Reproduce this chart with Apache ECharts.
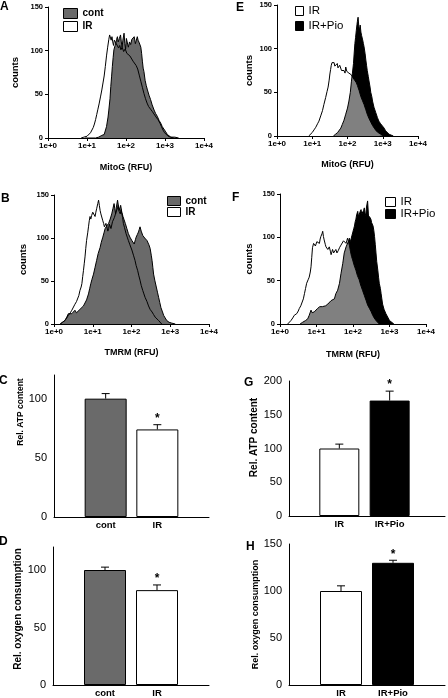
<!DOCTYPE html>
<html><head><meta charset="utf-8">
<script src="https://cdn.jsdelivr.net/npm/echarts@6/dist/echarts.min.js"></script>
<style>html,body{margin:0;padding:0;background:#fff}#c{width:448px;height:698px}</style>
</head><body><div id="c"></div><script>
// ---------- DATA ----------
const histTickLabels = ['1e+0', '1e+1', '1e+2', '1e+3', '1e+4'];
// x = log10(RFU), y = counts
const histA_IR = [[0.85,0],[0.92,1],[1.00,2],[1.05,3],[1.09,6],[1.13,8],[1.16,12],[1.19,16],[1.22,21],[1.25,27],[1.28,33],[1.31,39],[1.35,48],[1.38,55],[1.41,63],[1.44,71],[1.47,82],[1.50,94],[1.53,104],[1.56,113],[1.58,118],[1.60,116],[1.62,112],[1.64,116],[1.66,110],[1.68,106],[1.70,112],[1.72,114],[1.75,108],[1.78,110],[1.81,103],[1.84,106],[1.87,101],[1.90,104],[1.94,99],[1.98,102],[2.02,97],[2.06,98],[2.10,94],[2.14,92],[2.18,88],[2.22,86],[2.26,83],[2.30,79],[2.34,72],[2.38,65],[2.42,58],[2.46,51],[2.50,45],[2.54,40],[2.58,36],[2.63,33],[2.68,30],[2.72,28],[2.77,24],[2.82,21],[2.87,17],[2.91,13],[2.95,9],[2.99,6],[3.03,4],[3.08,2],[3.14,1],[3.22,0]];
const histA_cont = [[0.95,0],[1.22,0],[1.30,1],[1.38,3],[1.44,4],[1.50,13],[1.54,24],[1.56,32],[1.59,45],[1.61,59],[1.63,70],[1.65,82],[1.67,92],[1.69,101],[1.72,106],[1.74,109],[1.76,113],[1.78,116],[1.80,110],[1.83,114],[1.86,118],[1.88,110],[1.90,104],[1.92,112],[1.95,120],[1.97,108],[1.99,102],[2.01,114],[2.03,112],[2.06,104],[2.09,110],[2.12,107],[2.15,113],[2.18,115],[2.21,116],[2.24,108],[2.27,110],[2.29,116],[2.31,112],[2.34,109],[2.36,108],[2.38,104],[2.40,97],[2.42,88],[2.44,80],[2.46,76],[2.49,66],[2.52,60],[2.55,55],[2.59,49],[2.63,44],[2.67,38],[2.72,32],[2.76,28],[2.80,25],[2.85,20],[2.89,17],[2.93,13],[2.97,11],[3.02,7],[3.06,4],[3.10,2],[3.15,1],[3.25,1],[3.35,0]];
const histE_IR = [[0.90,0],[0.95,1],[1.00,4],[1.05,7],[1.10,10],[1.15,14],[1.19,17],[1.24,23],[1.29,29],[1.33,36],[1.38,44],[1.42,51],[1.45,56],[1.48,64],[1.50,71],[1.52,76],[1.54,81],[1.56,84],[1.58,85],[1.60,83],[1.62,84],[1.64,80],[1.67,82],[1.69,79],[1.71,83],[1.73,78],[1.76,77],[1.78,81],[1.81,79],[1.83,75],[1.85,77],[1.88,74],[1.90,75],[1.93,72],[1.95,79],[1.98,74],[2.00,73],[2.04,72],[2.08,71],[2.11,70],[2.15,67],[2.20,64],[2.25,61],[2.28,58],[2.33,52],[2.38,45],[2.42,41],[2.47,36],[2.52,30],[2.56,25],[2.61,20],[2.66,16],[2.71,12],[2.76,9],[2.81,6],[2.85,4],[2.90,3],[2.95,1],[3.00,1],[3.05,0]];
const histE_Pio = [[1.60,0],[1.66,2],[1.72,4],[1.76,6],[1.81,9],[1.85,13],[1.90,18],[1.95,25],[2.00,32],[2.04,40],[2.08,50],[2.11,62],[2.14,72],[2.17,83],[2.19,95],[2.21,106],[2.23,113],[2.25,121],[2.27,128],[2.28,131],[2.30,136],[2.32,126],[2.34,121],[2.36,127],[2.38,119],[2.40,115],[2.43,110],[2.45,106],[2.47,102],[2.50,94],[2.52,87],[2.54,81],[2.56,75],[2.59,68],[2.61,63],[2.64,56],[2.66,50],[2.69,45],[2.71,40],[2.75,33],[2.80,27],[2.85,21],[2.89,17],[2.94,14],[2.99,12],[3.04,9],[3.08,6],[3.13,4],[3.18,2],[3.23,1],[3.30,0]];
const histB_IR = [[0.16,0],[0.22,2],[0.28,4],[0.33,7],[0.37,10],[0.42,13],[0.46,16],[0.50,18],[0.54,23],[0.58,26],[0.60,27],[0.64,33],[0.67,39],[0.70,43],[0.72,47],[0.74,55],[0.76,62],[0.78,70],[0.80,78],[0.82,88],[0.84,97],[0.87,106],[0.89,113],[0.91,120],[0.93,125],[0.95,122],[0.97,126],[1.00,130],[1.02,132],[1.04,128],[1.06,125],[1.08,130],[1.10,134],[1.13,140],[1.15,144],[1.17,138],[1.19,132],[1.21,128],[1.23,126],[1.26,120],[1.28,117],[1.30,113],[1.32,113],[1.34,117],[1.36,115],[1.39,108],[1.41,111],[1.43,116],[1.45,117],[1.47,111],[1.49,113],[1.51,119],[1.53,121],[1.56,124],[1.58,125],[1.60,130],[1.62,132],[1.64,135],[1.66,138],[1.68,131],[1.71,128],[1.73,133],[1.75,132],[1.77,124],[1.79,117],[1.82,112],[1.86,105],[1.89,101],[1.92,97],[1.96,92],[2.01,86],[2.05,80],[2.09,74],[2.12,68],[2.16,62],[2.19,56],[2.22,51],[2.25,45],[2.29,39],[2.32,35],[2.35,31],[2.40,26],[2.44,21],[2.48,17],[2.53,14],[2.57,11],[2.61,8],[2.66,6],[2.70,4],[2.74,2],[2.78,0]];
const histB_cont = [[0.16,0],[0.22,2],[0.28,4],[0.33,8],[0.37,12],[0.42,11],[0.46,12],[0.50,14],[0.54,16],[0.58,13],[0.63,14],[0.67,17],[0.72,19],[0.76,21],[0.80,23],[0.84,28],[0.89,35],[0.92,41],[0.95,47],[0.98,52],[1.02,58],[1.06,66],[1.10,74],[1.14,82],[1.19,89],[1.22,95],[1.26,101],[1.29,106],[1.32,111],[1.36,114],[1.41,117],[1.45,122],[1.49,128],[1.52,134],[1.55,140],[1.57,134],[1.59,128],[1.61,136],[1.64,144],[1.66,138],[1.68,132],[1.70,135],[1.72,138],[1.75,130],[1.78,125],[1.81,121],[1.84,117],[1.88,111],[1.92,105],[1.96,101],[2.01,97],[2.04,95],[2.07,93],[2.10,98],[2.12,101],[2.15,104],[2.18,107],[2.20,110],[2.22,113],[2.25,108],[2.27,107],[2.29,103],[2.31,101],[2.34,100],[2.37,99],[2.40,97],[2.42,95],[2.45,92],[2.48,88],[2.51,80],[2.53,74],[2.55,66],[2.57,58],[2.60,51],[2.64,43],[2.67,37],[2.70,31],[2.73,25],[2.76,19],[2.80,14],[2.83,10],[2.87,7],[2.91,4],[2.97,2],[3.04,1],[3.13,0]];
const histF_IR = [[0.21,0],[0.26,2],[0.30,4],[0.35,7],[0.39,10],[0.43,12],[0.46,12],[0.50,15],[0.53,18],[0.57,21],[0.60,23],[0.64,29],[0.67,35],[0.70,41],[0.73,47],[0.77,51],[0.80,54],[0.83,60],[0.85,66],[0.87,77],[0.89,88],[0.92,93],[0.94,93],[0.97,90],[0.99,91],[1.01,95],[1.03,97],[1.06,94],[1.08,93],[1.10,98],[1.12,101],[1.15,104],[1.17,107],[1.19,101],[1.21,97],[1.24,92],[1.26,89],[1.29,87],[1.31,86],[1.33,88],[1.35,89],[1.38,84],[1.40,80],[1.42,83],[1.44,86],[1.47,82],[1.49,80],[1.51,84],[1.53,86],[1.56,82],[1.58,80],[1.60,85],[1.63,88],[1.65,90],[1.67,91],[1.70,92],[1.72,93],[1.74,96],[1.76,97],[1.78,94],[1.81,93],[1.83,96],[1.85,99],[1.88,94],[1.90,91],[1.93,84],[1.96,78],[1.99,74],[2.03,68],[2.08,62],[2.12,56],[2.17,51],[2.21,45],[2.26,39],[2.31,33],[2.36,27],[2.40,22],[2.45,18],[2.50,14],[2.54,10],[2.58,7],[2.63,4],[2.68,2],[2.72,0]];
const histF_Pio = [[0.55,0],[0.62,2],[0.70,4],[0.76,6],[0.80,10],[0.85,16],[0.88,13],[0.91,15],[0.94,14],[0.98,16],[1.03,18],[1.06,17],[1.09,20],[1.12,21],[1.16,20],[1.21,19],[1.25,21],[1.31,23],[1.35,25],[1.40,27],[1.44,28],[1.49,29],[1.53,35],[1.58,39],[1.63,47],[1.67,58],[1.72,70],[1.76,82],[1.81,89],[1.85,91],[1.88,96],[1.90,99],[1.93,95],[1.95,97],[1.97,102],[1.99,105],[2.02,110],[2.04,113],[2.06,118],[2.08,121],[2.10,126],[2.13,130],[2.15,124],[2.17,125],[2.19,129],[2.22,132],[2.24,127],[2.26,126],[2.29,131],[2.31,134],[2.33,128],[2.35,125],[2.37,135],[2.40,142],[2.42,128],[2.43,121],[2.45,124],[2.47,125],[2.49,121],[2.51,117],[2.53,115],[2.55,113],[2.57,108],[2.59,101],[2.61,92],[2.63,82],[2.65,72],[2.68,62],[2.70,54],[2.72,47],[2.75,41],[2.77,35],[2.79,29],[2.81,23],[2.85,17],[2.90,12],[2.95,8],[3.00,4],[3.05,2],[3.12,0]];

const barC_cats = ['cont', 'IR'];
const barC_vals = [100, 74];
const barC_err  = [4.3, 4];
const barC_sig  = [false, true];
const barD_cats = ['cont', 'IR'];
const barD_vals = [100, 82.5];
const barD_err  = [2.5, 4.5];
const barD_sig  = [false, true];
const barG_cats = ['IR', 'IR+Pio'];
const barG_vals = [100, 171];
const barG_err  = [6.5, 14];
const barG_sig  = [false, true];
const barH_cats = ['IR', 'IR+Pio'];
const barH_vals = [100, 130];
const barH_err  = [5.5, 2.7];
const barH_sig  = [false, true];

// ---------- STYLE / LAYOUT ----------
const FF = 'Liberation Sans';
const GRAY = '#6a6a6a';
const grids = [
  {left: 48,  top: 7,   width: 156, height: 131}, // A
  {left: 277, top: 5,   width: 141, height: 131}, // E
  {left: 54,  top: 195, width: 155, height: 129}, // B
  {left: 280, top: 194, width: 146, height: 130}, // F
  {left: 54,  top: 375, width: 155, height: 142}, // C
  {left: 289, top: 381, width: 157, height: 135}, // G
  {left: 53,  top: 547, width: 156, height: 141}, // D
  {left: 289, top: 544, width: 157, height: 144}  // H
];

const xAxes = [], yAxes = [], series = [];

function histAxes(gi, xname, xgap, ygap) {
  xAxes.push({type: 'value', gridIndex: gi, min: 0, max: 4, interval: 1,
    axisLine: {lineStyle: {color: '#000', width: 1}},
    axisTick: {length: 3, lineStyle: {color: '#000'}},
    splitLine: {show: false},
    axisLabel: {formatter: v => histTickLabels[v] || '', fontSize: 8, fontWeight: 'bold', fontFamily: FF, color: '#000', margin: 4},
    name: xname, nameLocation: 'middle', nameGap: xgap,
    nameTextStyle: {fontSize: 9, fontWeight: 'bold', fontFamily: FF, color: '#000'}});
  yAxes.push({type: 'value', gridIndex: gi, min: 0, max: 150, interval: 50,
    axisLine: {show: true, lineStyle: {color: '#000', width: 1}},
    axisTick: {show: true, length: 3, lineStyle: {color: '#000'}},
    splitLine: {show: false},
    axisLabel: {fontSize: 7.5, fontWeight: 'bold', fontFamily: FF, color: '#000', margin: 5},
    name: 'counts', nameLocation: 'middle', nameGap: ygap,
    nameTextStyle: {fontSize: 9.5, fontWeight: 'bold', fontFamily: FF, color: '#000'}});
}
function areaSeries(gi, name, data, fill, opacity, lineW) {
  series.push({type: 'line', name, xAxisIndex: gi, yAxisIndex: gi, data, symbol: 'none', showSymbol: false,
    lineStyle: {color: '#000', width: lineW}, itemStyle: {color: fill},
    areaStyle: {color: fill, opacity: opacity}, silent: true});
}
function lineSeries(gi, name, data) {
  series.push({type: 'line', name, xAxisIndex: gi, yAxisIndex: gi, data, symbol: 'none', showSymbol: false,
    lineStyle: {color: '#000', width: 1}, itemStyle: {color: '#000'}, silent: true});
}

// A
histAxes(0, 'MitoG (RFU)', 25, 28);
areaSeries(0, 'IR', histA_IR, '#fff', 1, 0);
areaSeries(0, 'cont', histA_cont, GRAY, 1, 1);
lineSeries(0, 'IR_outline', histA_IR);
// E
histAxes(1, 'MitoG (RFU)', 24, 23);
areaSeries(1, 'IR+Pio', histE_Pio, '#000', 1, 1);
areaSeries(1, 'IR', histE_IR, '#fff', 0.5, 0);
lineSeries(1, 'IR_outline', histE_IR);
// B
histAxes(2, 'TMRM (RFU)', 24, 26);
areaSeries(2, 'IR', histB_IR, '#fff', 1, 0);
areaSeries(2, 'cont', histB_cont, GRAY, 1, 1);
lineSeries(2, 'IR_outline', histB_IR);
// F
histAxes(3, 'TMRM (RFU)', 26, 26);
areaSeries(3, 'IR+Pio', histF_Pio, '#000', 1, 1);
areaSeries(3, 'IR', histF_IR, '#fff', 0.5, 0);
lineSeries(3, 'IR_outline', histF_IR);

function barPanel(gi, cats, vals, errs, sigs, colors, yMax, xMax, yName, yGap, namePad, nameSize, barW) {
  xAxes.push({type: 'value', gridIndex: gi, min: 0, max: xMax, interval: 1,
    axisLine: {lineStyle: {color: '#000', width: 1}}, axisTick: {show: false}, splitLine: {show: false},
    axisLabel: {formatter: v => cats[v - 1] || '', fontSize: 9.5, fontWeight: 'bold', fontFamily: FF, color: '#000', margin: 3,
      showMinLabel: true, showMaxLabel: true}});
  yAxes.push({type: 'value', gridIndex: gi, min: 0, max: yMax, interval: 50,
    axisLine: {show: true, lineStyle: {color: '#000', width: 1}}, axisTick: {show: false}, splitLine: {show: false},
    axisLabel: {fontSize: 11, fontFamily: FF, color: '#000', margin: 7, showMaxLabel: yMax % 50 === 0},
    name: yName, nameLocation: 'middle', nameGap: yGap,
    nameTextStyle: {fontSize: nameSize, fontWeight: 'bold', fontFamily: FF, color: '#000', padding: [0, 0, 0, namePad]}});
  series.push({type: 'bar', name: 'bars' + gi, xAxisIndex: gi, yAxisIndex: gi, barWidth: barW,
    data: cats.map((c, i) => ({value: [i + 1, vals[i]], itemStyle: {color: colors[i], borderColor: '#000', borderWidth: 1}})),
    silent: true});
  series.push({type: 'custom', name: 'err' + gi, xAxisIndex: gi, yAxisIndex: gi, z: 5, silent: true,
    data: cats.map((c, i) => [i + 1, vals[i], errs[i], sigs[i] ? 1 : 0]),
    renderItem: (params, api) => {
      const x = api.value(0), v = api.value(1), e = api.value(2), s = api.value(3);
      const p0 = api.coord([x, v]), p1 = api.coord([x, v + e]);
      const ch = [
        {type: 'line', shape: {x1: p0[0], y1: p0[1], x2: p1[0], y2: p1[1]}, style: {stroke: '#000', lineWidth: 1}},
        {type: 'line', shape: {x1: p1[0] - 4, y1: p1[1], x2: p1[0] + 4, y2: p1[1]}, style: {stroke: '#000', lineWidth: 1}}
      ];
      if (s) ch.push({type: 'text', style: {text: '*', x: p1[0], y: p1[1] - 6, align: 'center', verticalAlign: 'middle',
        font: 'bold 12px ' + FF, fill: '#000'}});
      return {type: 'group', children: ch};
    }});
}
barPanel(4, barC_cats, barC_vals, barC_err, barC_sig, [GRAY, '#fff'], 120, 3, 'Rel. ATP content', 27, 68, 8.5, 42);
barPanel(5, barG_cats, barG_vals, barG_err, barG_sig, ['#fff', '#000'], 200, 3.1, 'Rel. ATP content', 26, 22, 10, 40);
barPanel(6, barD_cats, barD_vals, barD_err, barD_sig, [GRAY, '#fff'], 120, 3, 'Rel. oxygen consumption', 29, 14, 10, 42);
barPanel(7, barH_cats, barH_vals, barH_err, barH_sig, ['#fff', '#000'], 150, 3, 'Rel. oxygen consumption', 28, 0, 9, 42);

const legTxtBold = {fontFamily: FF, fontWeight: 'bold', fontSize: 10, color: '#000'};
const legTxtNorm = {fontFamily: FF, fontSize: 11.5, color: '#000'};
const itemWhite = {color: '#fff', borderColor: '#000', borderWidth: 1};
const itemGray = {color: GRAY, borderColor: '#000', borderWidth: 1};
const itemBlack = {color: '#000', borderColor: '#000', borderWidth: 1};
const legends = [
  {left: 63, top: 8, itemWidth: 14, itemHeight: 10, itemGap: 2, textStyle: legTxtBold,
   data: [{name: 'cont', itemStyle: itemGray}, {name: 'IR', itemStyle: itemWhite}]},
  {left: 295, top: 5, itemWidth: 8, itemHeight: 9, itemGap: 3, textStyle: legTxtNorm,
   data: [{name: 'IR', itemStyle: itemWhite}, {name: 'IR+Pio', itemStyle: itemBlack}]},
  {left: 167, top: 196, itemWidth: 13, itemHeight: 9, itemGap: 1, textStyle: legTxtBold,
   data: [{name: 'cont', itemStyle: itemGray}, {name: 'IR', itemStyle: itemWhite}]},
  {left: 385, top: 196, itemWidth: 10, itemHeight: 9, itemGap: 0, textStyle: legTxtNorm,
   data: [{name: 'IR', itemStyle: itemWhite}, {name: 'IR+Pio', itemStyle: itemBlack}]}
].map(l => Object.assign({orient: 'vertical', icon: 'rect', selectedMode: false, padding: 0}, l));

const letters = [['A', 0, 1], ['E', 236, 2], ['B', 1, 193], ['F', 232, 192], ['C', -1, 375], ['G', 244, 377], ['D', -1, 536], ['H', 246, 541]];

const chart = echarts.init(document.getElementById('c'), null, {renderer: 'canvas'});
chart.setOption({
  backgroundColor: '#fff',
  animation: false,
  grid: grids,
  xAxis: xAxes,
  yAxis: yAxes,
  legend: legends,
  series: series,
  graphic: letters.map(([t, x, y]) => ({type: 'text', left: x, top: y, style: {text: t, font: 'bold 12px ' + FF, fill: '#000'}}))
});
</script></body></html>
